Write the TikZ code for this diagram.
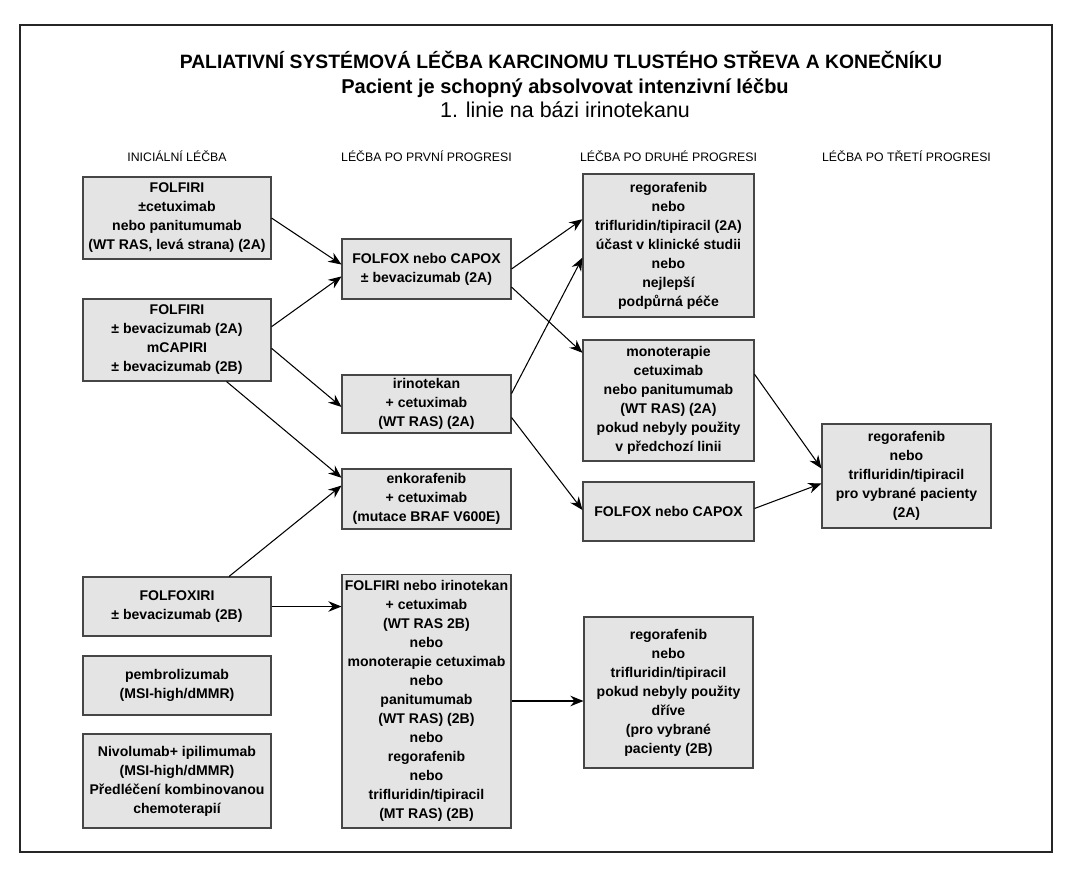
\documentclass[tikz,border=0pt]{standalone}
\usepackage{fontspec}
\setmainfont{Liberation Sans}
\usetikzlibrary{arrows.meta}
\definecolor{boxfill}{RGB}{228,228,228}
\definecolor{boxline}{RGB}{70,70,70}

\begin{document}
\begin{tikzpicture}[x=0.02cm, y=-0.02cm,
	box/.style={draw=boxline, fill=boxfill, line width=0.6pt, align=center, inner sep=1pt, font=\fontsize{8}{10.8}\selectfont\bfseries},
	flow/.style={line width=0.6pt, -{Stealth[length=7.5pt, width=6pt, inset=2.5pt]}},
	colhead/.style={anchor=base, font=\fontsize{7}{8}\selectfont}]
\useasboundingbox (0,0) rectangle (1072,872);

	%frame
	\draw[line width=1.1pt, black!85] (20,25) rectangle (1052,852);

	%titles
	\node[anchor=base, font=\fontsize{11}{12}\selectfont\bfseries] (title) at (561,68) {PALIATIVNÍ SYSTÉMOVÁ LÉČBA KARCINOMU TLUSTÉHO STŘEVA A KONEČNÍKU};
	\node[anchor=base, font=\fontsize{11.4}{12}\selectfont\bfseries] (subtitle) at (565,93) {Pacient je schopný absolvovat intenzivní léčbu};
	\node[anchor=base, font=\fontsize{12.2}{13}\selectfont] (line) at (565,117) {1. linie na bázi irinotekanu};

	%column heads
	\node[colhead] (h1) at (177,161) {INICIÁLNÍ LÉČBA};
	\node[colhead] (h2) at (426.5,161) {LÉČBA PO PRVNÍ PROGRESI};
	\node[colhead] (h3) at (668.5,161) {LÉČBA PO DRUHÉ PROGRESI};
	\node[colhead] (h4) at (906.5,161) {LÉČBA PO TŘETÍ PROGRESI};

	%initial
	\node[box, minimum width=3.76cm, minimum height=1.64cm] (a1) at (177,218) {FOLFIRI\\±cetuximab\\nebo panitumumab\\(WT RAS, levá strana) (2A)};
	\node[box, minimum width=3.76cm, minimum height=1.64cm] (a2) at (177,340) {FOLFIRI\\± bevacizumab (2A)\\mCAPIRI\\± bevacizumab (2B)};
	\node[box, minimum width=3.76cm, minimum height=1.18cm] (a3) at (177,606.5) {FOLFOXIRI\\± bevacizumab (2B)};
	\node[box, minimum width=3.76cm, minimum height=1.18cm] (a4) at (177,685.5) {pembrolizumab\\(MSI-high/dMMR)};
	\node[box, minimum width=3.76cm, minimum height=1.88cm] (a5) at (177,781) {Nivolumab+ ipilimumab\\(MSI-high/dMMR)\\Předléčení kombinovanou\\chemoterapií};

	%first progression
	\node[box, minimum width=3.38cm, minimum height=1.2cm] (b1) at (426.5,269) {FOLFOX nebo CAPOX\\± bevacizumab (2A)};
	\node[box, minimum width=3.38cm, minimum height=1.16cm] (b2) at (426.5,404) {irinotekan\\+ cetuximab\\(WT RAS) (2A)};
	\node[box, minimum width=3.38cm, minimum height=1.2cm] (b3) at (426.5,499) {enkorafenib\\+ cetuximab\\(mutace BRAF V600E)};
	\node[box, minimum width=3.38cm, minimum height=5.08cm] (b4) at (426.5,701) {FOLFIRI nebo irinotekan\\+ cetuximab\\(WT RAS 2B)\\nebo\\monoterapie cetuximab\\nebo\\panitumumab\\(WT RAS) (2B)\\nebo\\regorafenib\\nebo\\trifluridin/tipiracil\\(MT RAS) (2B)};

	%second progression
	\node[box, minimum width=3.42cm, minimum height=2.86cm] (c1) at (668.5,245.5) {regorafenib\\nebo\\trifluridin/tipiracil (2A)\\účast v klinické studii\\nebo\\nejlepší\\podpůrná péče};
	\node[box, minimum width=3.42cm, minimum height=2.42cm] (c2) at (668.5,400.5) {monoterapie\\cetuximab\\nebo panitumumab\\(WT RAS) (2A)\\pokud nebyly použity\\v předchozí linii};
	\node[box, minimum width=3.42cm, minimum height=1.18cm] (c3) at (668.5,511.5) {FOLFOX nebo CAPOX};
	\node[box, minimum width=3.38cm, minimum height=3.02cm] (c4) at (668.5,692.5) {regorafenib\\nebo\\trifluridin/tipiracil\\pokud nebyly použity\\dříve\\(pro vybrané\\pacienty (2B)};

	%third progression
	\node[box, minimum width=3.38cm, minimum height=2.08cm] (d1) at (906.5,476) {regorafenib\\nebo\\trifluridin/tipiracil\\pro vybrané pacienty\\(2A)};

	%arrows
	\draw[flow] (a1.east) -- (b1.177);
	\draw[flow] (a2.8) -- (b1.185);
	\draw[flow] (a2.-5) -- (b2.182);
	\draw[flow] (a2.-40) -- (b3.166);
	\draw[flow] (a3.30) -- (b3.171);
	\draw[flow] (a3.east) -- (a3.east -| b4.west);
	\draw[flow] (b1.east) -- (c1.163);
	\draw[flow] (b1.-12) -- (c2.151);
	\draw[flow] (b2.7) -- (c1.188);
	\draw[flow] (b2.-9) -- (c3.179);
	\draw[flow] (b4.east) -- (b4.east -| c4.west);
	\draw[flow] (c2.17) -- (d1.175);
	\draw[flow] (c3.2) -- (d1.185);
\end{tikzpicture}
\end{document}
